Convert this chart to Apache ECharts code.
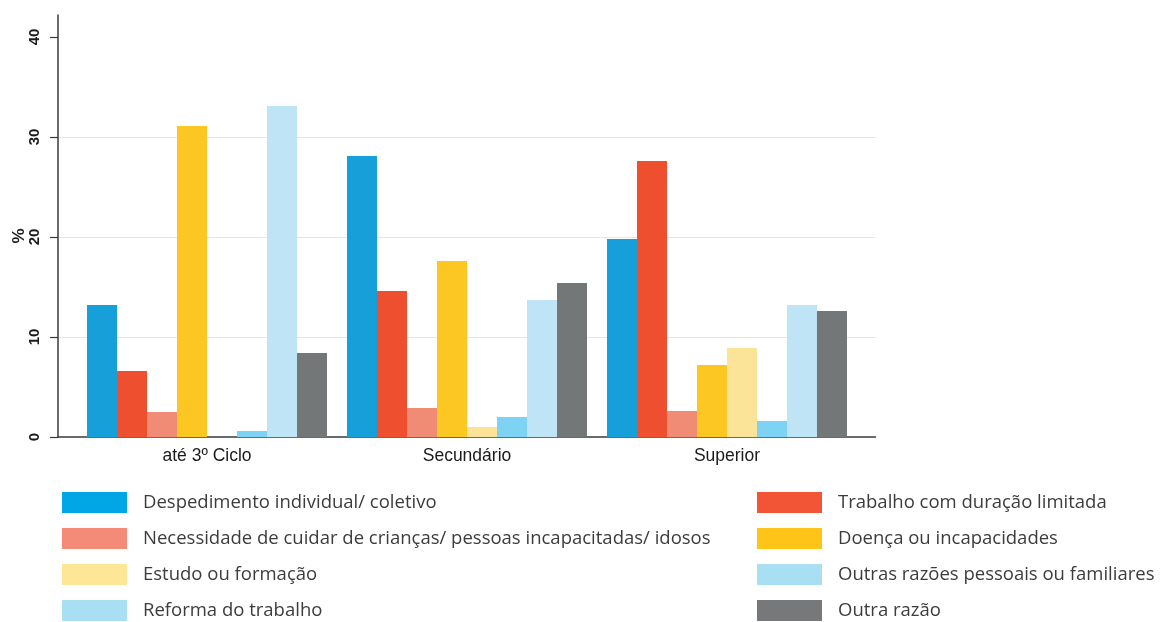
<!DOCTYPE html>
<html>
<head>
<meta charset="utf-8">
<script src="https://cdn.jsdelivr.net/npm/echarts@6/dist/echarts.min.js"></script>
<style>
html,body{margin:0;padding:0;background:#fff;}
#chart{width:1160px;height:622px;}
</style>
</head>
<body>
<div id="chart"></div>
<script>
// ---- data ----
const categories = ['até 3º Ciclo', 'Secundário', 'Superior'];
const seriesNames = [
  'Despedimento individual/ coletivo',
  'Trabalho com duração limitada',
  'Necessidade de cuidar de crianças/ pessoas incapacitadas/ idosos',
  'Doença ou incapacidades',
  'Estudo ou formação',
  'Outras razões pessoais ou familiares',
  'Reforma do trabalho',
  'Outra razão'
];
// values per category, in series order
const valuesAte3Ciclo  = [13.2, 6.6, 2.5, 31.1, 0, 0.6, 33.1, 8.4];
const valuesSecundario = [28.1, 14.6, 2.9, 17.6, 1.0, 2.0, 13.7, 15.4];
const valuesSuperior   = [19.8, 27.6, 2.6, 7.2, 8.9, 1.6, 13.2, 12.6];
const yTicks = [0, 10, 20, 30, 40];

// ---- styles ----
const barColors = ['#179fda', '#ee4f2e', '#f08b75', '#fcc623', '#fbe497', '#7ed2f4', '#bee4f6', '#737778'];
const legendColors = ['#00a7e4', '#f15535', '#f48b79', '#fec418', '#fde696', '#a9dff2', '#a9dff2', '#76787a'];

const valueRows = [valuesAte3Ciclo, valuesSecundario, valuesSuperior];
const series = seriesNames.map((name, s) => ({
  name: name,
  type: 'bar',
  barWidth: 30,
  barGap: '0%',
  itemStyle: { color: barColors[s] },
  data: categories.map((c, i) => [i, valueRows[i][s]])
}));

const legendItem = (idx) => ({ name: seriesNames[idx], itemStyle: { color: legendColors[idx] } });
const legendCommon = {
  orient: 'vertical',
  top: 492,
  height: 150,
  padding: 0,
  icon: 'rect',
  itemWidth: 65,
  itemHeight: 21,
  itemGap: 15,
  selectedMode: false,
  textStyle: { fontFamily: 'Open Sans', fontSize: 18.5, color: '#3c3c3c', padding: [0, 0, 0, 11] }
};

const chart = echarts.init(document.getElementById('chart'), null, { renderer: 'canvas' });
chart.setOption({
  animation: false,
  backgroundColor: '#ffffff',
  grid: { left: 58, right: 284.5, top: 15, bottom: 185, outerBoundsMode: 'none', containLabel: false },
  legend: [
    Object.assign({ left: 62, data: [0, 2, 4, 6].map(legendItem) }, legendCommon),
    Object.assign({ left: 757, data: [1, 3, 5, 7].map(legendItem) }, legendCommon)
  ],
  xAxis: {
    type: 'value',
    min: -0.5731,
    max: 2.5712,
    axisLine: { show: true, onZero: false, lineStyle: { color: '#3a3a3a', width: 1.5 } },
    axisTick: { show: false },
    splitLine: { show: false },
    axisLabel: {
      customValues: categories.map((c, i) => i),
      formatter: (v) => categories[Math.round(v)] || '',
      margin: 10,
      fontFamily: 'Liberation Sans',
      fontSize: 17.5,
      color: '#1a1a1a'
    }
  },
  yAxis: {
    type: 'value',
    min: 0,
    max: 42.2,
    interval: 10,
    name: '%',
    nameLocation: 'middle',
    nameRotate: 90,
    nameGap: 30,
    nameMoveOverlap: false,
    nameTextStyle: { fontFamily: 'Liberation Sans', fontSize: 17, fontWeight: 'bold', color: '#1e1e1e', padding: [0, 20, 0, 0] },
    axisLine: { show: true, onZero: false, lineStyle: { color: '#3a3a3a', width: 1.5 } },
    axisTick: { show: true, customValues: yTicks, length: 8, lineStyle: { color: '#3a3a3a', width: 1.2 } },
    axisLabel: {
      customValues: yTicks,
      rotate: 90,
      margin: 16,
      fontFamily: 'Liberation Sans',
      fontSize: 15,
      fontWeight: 'bold',
      color: '#1a1a1a'
    },
    splitLine: {
      show: true,
      lineStyle: {
        color: ['rgba(0,0,0,0)', '#dce9ef', '#dce9ef', '#dce9ef', 'rgba(0,0,0,0)', 'rgba(0,0,0,0)'],
        width: 1.2
      }
    }
  },
  series: series
});
</script>
</body>
</html>
